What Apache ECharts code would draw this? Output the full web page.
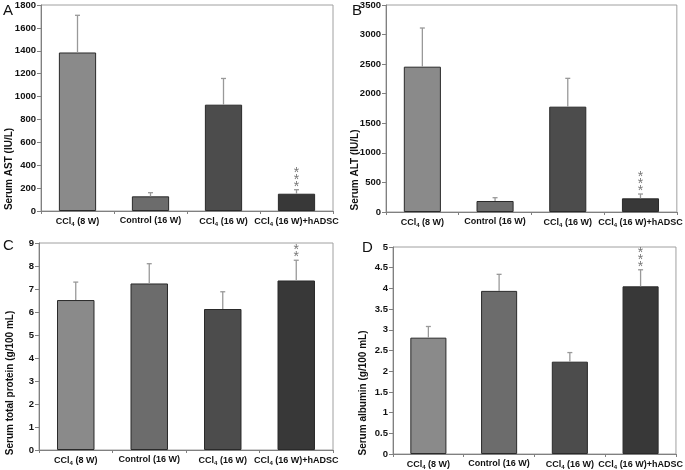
<!DOCTYPE html>
<html><head><meta charset="utf-8">
<script src="https://cdn.jsdelivr.net/npm/echarts@6/dist/echarts.min.js"></script>
<style>html,body{margin:0;padding:0;background:#fff}#c{width:685px;height:470px}</style>
</head><body><div id="c"></div>
<script>
var categories = ['CCl4 (8 W)', 'Control (16 W)', 'CCl4 (16 W)', 'CCl4 (16 W)+hADSC'];
var astValues = [1385, 128, 929, 151];
var astErrors = [1710, 160, 1158, 186];
var astStars = ['', '', '', '***'];
var altValues = [2457, 186, 1781, 231];
var altErrors = [3111, 242, 2260, 304];
var altStars = ['', '', '', '***'];
var proteinValues = [6.52, 7.24, 6.13, 7.37];
var proteinErrors = [7.30, 8.10, 6.88, 8.25];
var proteinStars = ['', '', '', '**'];
var albuminValues = [2.81, 3.94, 2.23, 4.05];
var albuminErrors = [3.08, 4.34, 2.45, 4.45];
var albuminStars = ['', '', '', '***'];
var barColors = ['#8a8a8a', '#6c6c6c', '#4c4c4c', '#383838'];

var FONT = '"Liberation Sans", Arial, sans-serif';
var panels = [
  {letter: 'A', name: 'Serum AST (IU/L)', values: astValues, errors: astErrors, stars: astStars, max: 1800, interval: 200,
   grid: {left: 41, top: 4, width: 292, height: 207}, letterPos: [3, 3], namePos: [9, 169]},
  {letter: 'B', name: 'Serum ALT (IU/L)', values: altValues, errors: altErrors, stars: altStars, max: 3500, interval: 500,
   grid: {left: 386, top: 5, width: 297, height: 207}, letterPos: [352, 3], namePos: [355, 170]},
  {letter: 'C', name: 'Serum total protein (g/100 mL)', values: proteinValues, errors: proteinErrors, stars: proteinStars, max: 9, interval: 1,
   grid: {left: 39, top: 243, width: 294, height: 207}, letterPos: [3, 238], namePos: [10, 383]},
  {letter: 'D', name: 'Serum albumin (g/100 mL)', values: albuminValues, errors: albuminErrors, stars: albuminStars, max: 5, interval: 0.5,
   grid: {left: 393, top: 247, width: 290, height: 207}, letterPos: [362, 240], namePos: [363, 393]}
];

var grids = [], xAxes = [], yAxes = [], series = [], graphics = [];
panels.forEach(function (p, i) {
  grids.push({left: p.grid.left, top: p.grid.top, width: p.grid.width, height: p.grid.height,
    show: true, borderColor: '#a0a0a0', borderWidth: 1, backgroundColor: 'transparent'});
  xAxes.push({type: 'category', gridIndex: i, data: categories, boundaryGap: true,
    axisLine: {lineStyle: {color: '#808080', width: 1}},
    axisTick: {show: true, length: 3, alignWithLabel: false, lineStyle: {color: '#808080'}},
    axisLabel: {interval: 0, margin: 5, color: '#111',
      formatter: function (v) {
        var m = v.match(/^CCl4(.*)$/);
        if (m) return '{a|CCl}{s|4}{a|' + m[1] + '}';
        return '{a|' + v + '}';
      },
      rich: {a: {fontFamily: FONT, fontWeight: 'bold', fontSize: 9, color: '#111'},
             s: {fontFamily: FONT, fontWeight: 'bold', fontSize: 6, color: '#111', verticalAlign: 'bottom', padding: [5, 0, 0, 0]}}
    }
  });
  yAxes.push({type: 'value', gridIndex: i, min: 0, max: p.max, interval: p.interval,
    axisLine: {show: true, lineStyle: {color: '#808080', width: 1}},
    axisTick: {show: true, length: 4, lineStyle: {color: '#808080'}},
    splitLine: {show: false},
    axisLabel: {margin: 5, fontFamily: FONT, fontWeight: 'bold', fontSize: 9.5, color: '#111',
      formatter: function (v) { return String(v); }}
  });
  series.push({type: 'bar', xAxisIndex: i, yAxisIndex: i, barWidth: '51%',
    data: p.values.map(function (v, k) { return {value: v, itemStyle: {color: barColors[k]}}; }),
    itemStyle: {borderColor: '#2a2a2a', borderWidth: 1},
    silent: true, animation: false, z: 2});
  var errData = p.values.map(function (v, k) { return [k, v, p.errors[k]]; });
  series.push({type: 'custom', xAxisIndex: i, yAxisIndex: i, data: errData, animation: false, silent: true, z: 3,
    encode: {x: 0, y: [1, 2]},
    renderItem: function (params, api) {
      var x = api.value(0);
      var lo = api.coord([x, api.value(1)]);
      var hi = api.coord([x, api.value(2)]);
      var children = [
        {type: 'line', shape: {x1: lo[0], y1: lo[1], x2: hi[0], y2: hi[1]}, style: {stroke: '#999', lineWidth: 1.3}},
        {type: 'line', shape: {x1: hi[0] - 2.5, y1: hi[1], x2: hi[0] + 2.5, y2: hi[1]}, style: {stroke: '#999', lineWidth: 1.3}}
      ];
      var st = p.stars[params.dataIndex] || '';
      for (var s = 0; s < st.length; s++) {
        children.push({type: 'text', style: {text: '*', x: hi[0], y: hi[1] + 4 - s * 6.7, align: 'center', verticalAlign: 'bottom',
          fontFamily: FONT, fontWeight: 'normal', fontSize: 14, fill: '#777'}});
      }
      return {type: 'group', children: children};
    }
  });
  graphics.push({type: 'text', left: p.letterPos[0], top: p.letterPos[1],
    style: {text: p.letter, font: '15px ' + FONT, fill: '#111'}});
  graphics.push({type: 'text', x: p.namePos[0], y: p.namePos[1], rotation: Math.PI / 2,
    style: {text: p.name, align: 'center', verticalAlign: 'middle', font: 'bold 10px ' + FONT, fill: '#111'}});
});

var chart = echarts.init(document.getElementById('c'), null, {renderer: 'canvas'});
chart.setOption({animation: false, grid: grids, xAxis: xAxes, yAxis: yAxes, series: series, graphic: graphics});
</script></body></html>
